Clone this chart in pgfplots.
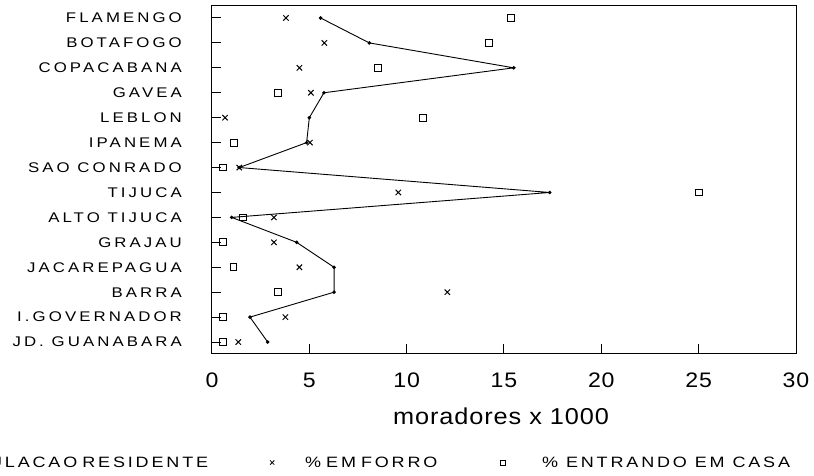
\documentclass[border=0pt]{standalone}
\usepackage{pgfplots}
\usepackage{pgfplotstable}
\pgfplotsset{compat=1.18}
\usepackage{fontspec}
\setmainfont{Liberation Sans}
\newfontfamily\labfont[FakeStretch=1.2,LetterSpace=22]{Liberation Sans}
\newfontfamily\legfont[FakeStretch=1.2,LetterSpace=19]{Liberation Sans}
\newfontfamily\numfont[FakeStretch=1.1,LetterSpace=4]{Liberation Sans}

\pgfplotstableread{
idx pop forro casa
0 5.58 3.80 15.36
1 8.08 5.77 14.23
2 15.50 4.49 8.54
3 5.75 5.08 3.41
4 5.00 0.67 10.82
5 4.86 5.03 1.13
6 1.40 1.40 0.58
7 17.35 9.57 25.03
8 1.01 3.18 1.61
9 4.35 3.18 0.58
10 6.27 4.49 1.10
11 6.27 12.09 3.37
12 1.95 3.77 0.58
13 2.86 1.35 0.58
}\data

\begin{document}
\begin{tikzpicture}
\useasboundingbox (0,0) rectangle (814pt,-475pt);
\begin{axis}[
  at={(212pt,-353pt)}, anchor=south west,
  scale only axis, width=584pt, height=348pt,
  xmin=0, xmax=30, ymin=-0.52, ymax=13.44, y dir=reverse,
  xtick={0,5,...,30}, ytick={0,...,13},
  yticklabels={FLAMENGO,BOTAFOGO,COPACABANA,GAVEA,LEBLON,IPANEMA,SAO CONRADO,TIJUCA,ALTO TIJUCA,GRAJAU,JACAREPAGUA,BARRA,I.GOVERNADOR,JD. GUANABARA},
  tick align=inside, major tick length=9pt,
  xtick pos=bottom, ytick pos=left,
  axis line style={line width=1pt},
  tick style={line width=1pt, black},
  /pgf/number format/assume math mode=true,
  xticklabel style={font=\numfont\fontsize{21}{24}\selectfont, inner sep=0pt, anchor=north, yshift=-20pt},
  yticklabel style={font=\labfont\fontsize{14}{16}\selectfont, inner sep=0pt, anchor=east, xshift=-30pt},
  xlabel={moradores x 1000},
  xlabel style={at={(axis description cs:0.5,0)}, anchor=center, yshift=-63.5pt, xshift=-3pt,
    font=\numfont\fontsize{23}{26}\selectfont},
  legend columns=3,
  legend style={draw=none, fill=none, inner sep=0pt,
    at={(axis description cs:-0.5908,-0.3147)}, anchor=west,
    font=\legfont\fontsize{15}{17}\selectfont,
    nodes={inner sep=0pt}, column sep=0pt, row sep=0pt},
]
\addplot[black, line width=0.9pt, mark=*, mark size=1.3pt,
  legend image code/.code={\draw[black, line width=0.8pt] (-36pt,0pt) -- (-8pt,0pt); \path[draw=none] (-41pt,0pt) -- (0pt,0pt);}]
  table[x=pop, y=idx] {\data};
\addlegendentry[text width=300pt, align=right]{POPULACAO RESIDENTE}
\addplot[only marks, black, mark=x, mark size=3.8pt, line width=1pt,
  legend image code/.code={\path[draw=none] (-64pt,0pt) -- (33pt,0pt); \draw[black, line width=0.8pt, mark=x, mark size=3pt] plot coordinates {(0pt,0pt)};}]
  table[x=forro, y=idx] {\data};
\addlegendentry[text width=190pt, align=left]{\% EM FORRO}
\addplot[only marks, black, mark=square, mark size=3.4pt, line width=1pt,
  legend image code/.code={\path[draw=none] (-8pt,0pt) -- (39pt,0pt); \draw[black, line width=0.8pt, mark=square, mark size=2.6pt] plot coordinates {(0pt,0pt)};}]
  table[x=casa, y=idx] {\data};
\addlegendentry{\% ENTRANDO EM CASA}
\end{axis}
\end{tikzpicture}
\end{document}
